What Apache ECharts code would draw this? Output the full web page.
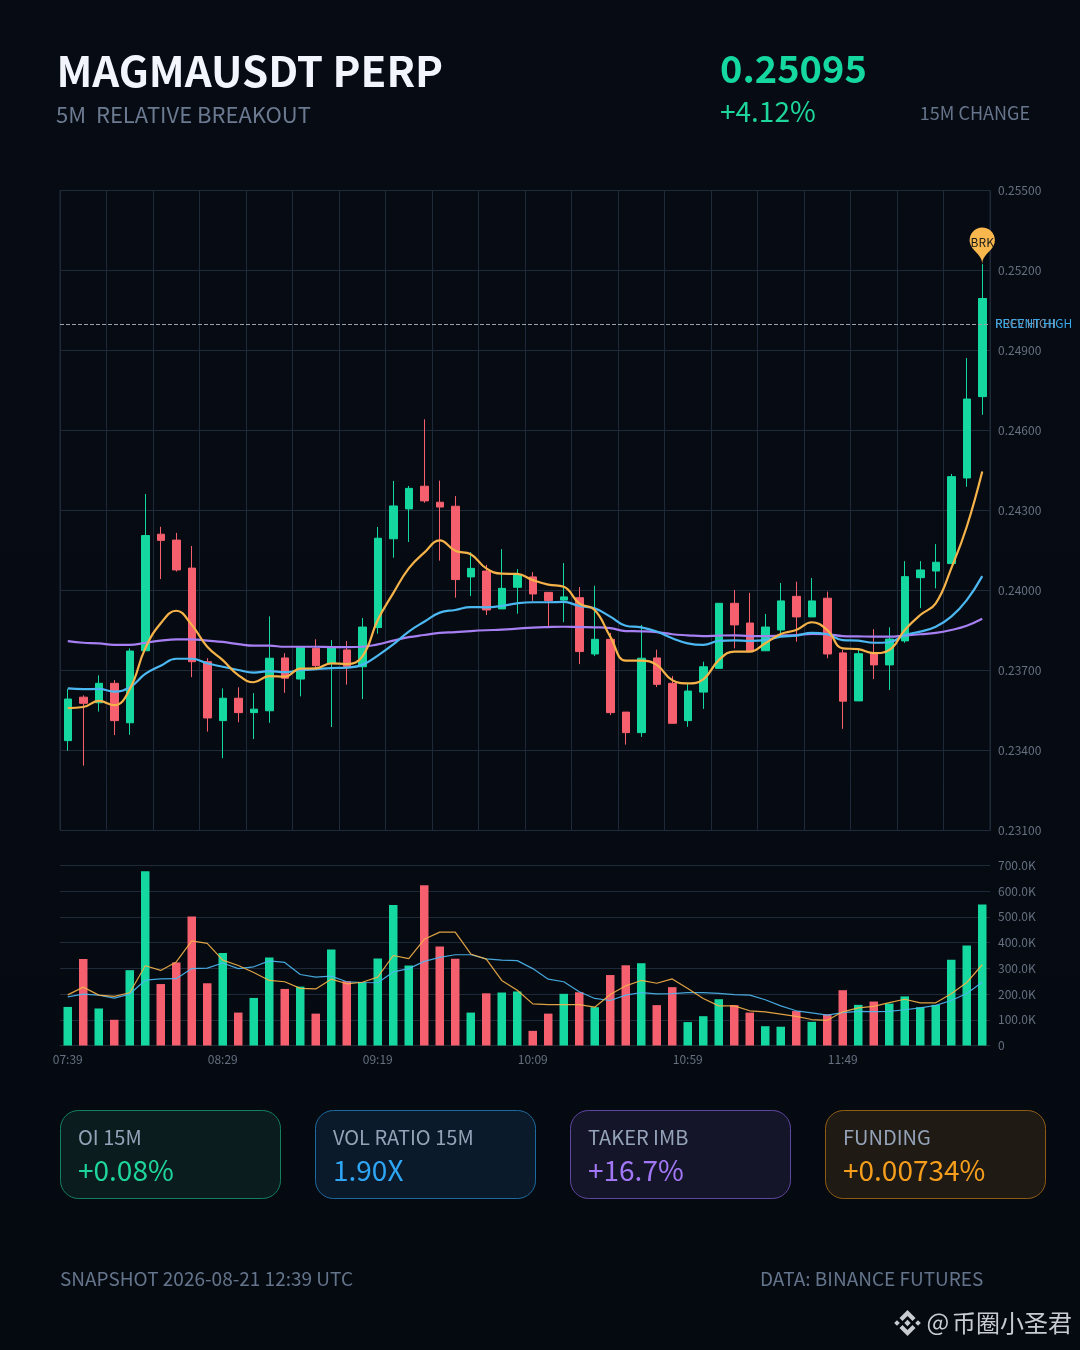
<!DOCTYPE html>
<html><head><meta charset="utf-8">
<style>html,body{margin:0;padding:0;background:#050a12}#c{width:1080px;height:1350px}</style>
<script src="https://cdn.jsdelivr.net/npm/echarts@6/dist/echarts.min.js"></script>
</head><body><div id="c"></div>
<script>
const times=['07:39','07:44','07:49','07:54','07:59','08:04','08:09','08:14','08:19','08:24','08:29','08:34','08:39','08:44','08:49','08:54','08:59','09:04','09:09','09:14','09:19','09:24','09:29','09:34','09:39','09:44','09:49','09:54','09:59','10:04','10:09','10:14','10:19','10:24','10:29','10:34','10:39','10:44','10:49','10:54','10:59','11:04','11:09','11:14','11:19','11:24','11:29','11:34','11:39','11:44','11:49','11:54','11:59','12:04','12:09','12:14','12:19','12:24','12:29','12:34'];
const opens=[.23437,.23600,.23579,.23652,.23504,.23774,.24211,.24189,.24084,.23733,.23512,.23596,.23542,.23549,.23747,.23668,.23783,.23727,.23777,.23714,.23861,.24194,.24306,.24391,.24331,.24316,.24051,.24073,.23931,.24012,.24051,.23993,.23964,.23973,.23762,.23817,.23544,.23467,.23747,.23652,.23512,.23619,.23708,.23952,.23878,.23774,.23852,.23978,.23901,.23971,.23766,.23586,.23762,.23721,.23811,.24048,.24073,.24101,.24422,.24727];
const closes=[.23593,.23577,.23652,.23512,.23773,.24206,.24188,.24077,.23733,.23522,.23596,.23542,.23555,.23746,.23671,.23787,.23718,.23786,.23714,.23863,.24196,.24317,.24383,.24336,.24313,.24041,.24083,.23927,.24008,.24058,.23987,.23962,.23976,.23771,.23817,.23542,.23467,.23746,.23648,.23502,.23623,.23714,.23952,.23871,.23771,.23863,.23961,.23901,.23961,.23762,.23585,.23763,.23721,.23818,.24052,.24077,.24106,.24427,.24718,.25095];
const lows=[.23399,.23343,.23546,.23458,.23459,.23774,.24043,.24071,.23675,.23471,.23371,.23506,.23443,.23504,.23616,.23603,.23708,.23488,.23647,.23593,.23838,.24123,.24182,.24329,.24112,.23973,.23979,.23908,.23931,.23913,.23961,.23866,.23881,.23724,.23754,.23533,.23422,.23451,.23638,.23502,.23489,.23556,.23708,.23783,.23771,.23774,.23836,.23808,.23901,.23746,.23481,.23586,.23668,.23627,.23804,.23934,.24008,.24101,.24389,.24659];
const highs=[.23631,.23607,.23682,.23664,.23783,.24362,.24239,.24216,.24167,.23746,.23633,.23637,.23615,.23903,.23765,.23792,.23817,.23814,.23811,.23897,.24238,.24411,.24392,.24642,.24412,.24354,.24144,.24096,.24155,.24080,.24069,.23993,.24103,.24013,.24018,.23841,.23544,.23871,.23778,.23679,.23652,.23733,.23952,.24002,.23991,.23912,.24028,.24033,.24047,.23996,.23777,.23783,.23855,.23862,.24110,.24110,.24174,.24437,.24872,.25224];
const priceMaFast=[.23559,.23563,.23586,.23570,.23630,.23783,.23877,.23924,.23871,.23789,.23739,.23683,.23656,.23679,.23677,.23707,.23708,.23727,.23724,.23752,.23889,.23990,.24083,.24142,.24188,.24149,.24136,.24083,.24063,.24062,.24039,.24022,.24014,.23952,.23927,.23827,.23737,.23737,.23721,.23664,.23652,.23667,.23739,.23771,.23771,.23802,.23837,.23852,.23881,.23852,.23783,.23780,.23765,.23777,.23852,.23908,.23952,.24083,.24239,.24446];
const priceMaMid=[.23633,.23630,.23631,.23621,.23637,.23687,.23718,.23744,.23744,.23727,.23714,.23702,.23692,.23698,.23694,.23701,.23705,.23709,.23711,.23721,.23756,.23798,.23846,.23883,.23917,.23927,.23938,.23937,.23942,.23952,.23956,.23956,.23957,.23942,.23933,.23902,.23868,.23862,.23846,.23821,.23802,.23796,.23811,.23813,.23811,.23814,.23827,.23831,.23841,.23836,.23814,.23812,.23804,.23806,.23833,.23846,.23864,.23902,.23964,.24054];
const priceMaSlow=[.23810,.23804,.23802,.23796,.23796,.23804,.23812,.23817,.23817,.23812,.23807,.23799,.23793,.23793,.23789,.23789,.23789,.23788,.23788,.23789,.23798,.23812,.23825,.23833,.23841,.23844,.23848,.23851,.23853,.23857,.23861,.23863,.23864,.23863,.23862,.23859,.23848,.23847,.23844,.23836,.23832,.23829,.23831,.23832,.23829,.23829,.23831,.23833,.23837,.23836,.23829,.23828,.23827,.23827,.23831,.23836,.23841,.23852,.23868,.23894];
const volumes=[150,336,144,100,293,678,239,323,502,242,360,128,185,342,220,229,124,373,250,246,338,546,311,623,385,337,128,203,206,210,57,124,201,207,149,274,312,320,157,227,91,114,180,157,128,75,73,134,92,121,215,158,171,163,191,149,158,333,389,548].map(v=>v*1000);
const volMaFast=[197,227,196,191,205,310,292,325,407,397,332,311,284,253,248,222,220,258,240,246,266,350,338,413,441,441,356,336,253,215,162,159,159,159,149,198,232,253,242,259,222,183,154,154,135,131,122,113,101,98,131,146,152,167,180,166,166,201,245,314].map(v=>v*1000);
const volMaSlow=[189,200,196,184,200,254,259,260,299,301,321,299,306,329,323,276,266,270,248,245,244,286,299,327,343,353,353,337,332,330,299,258,248,209,183,175,196,206,201,202,206,206,203,198,196,178,154,135,127,118,128,133,132,133,139,146,156,175,202,246].map(v=>v*1000);
const priceTicks={min:.231,max:.255,interval:.003};
const recentHigh=.25005;

const GREEN='#14d8a0',RED='#f55f6e',ORANGE='#f6b349',BLUE='#4cb8f2',PURPLE='#a67ff2';
const GRID='#1e2a39',AXIS='#667080',FONT='"Noto Sans CJK SC","Noto Sans",sans-serif';
const up=i=>closes[i]>=opens[i];

function txt(x,y,text,size,fill,weight,align){
  return {type:'text',x:x,y:y,silent:true,style:{text:text,fill:fill,font:(weight||'normal')+' '+size+'px '+FONT,textAlign:align||'left',textVerticalAlign:'middle'}};
}
function card(x,label,value,fillC,stroke,valC){
  return [
    {type:'rect',shape:{x:x+.5,y:1110.5,width:220,height:88,r:18},silent:true,style:{fill:fillC,stroke:stroke,lineWidth:1}},
    txt(x+18,1137,label,20,'#94a3b8'),
    txt(x+18,1170,value,28,valC)
  ];
}
function logoPart(points){return {type:'polygon',silent:true,shape:{points:points.map(p=>[907.5+p[0],1323+p[1]])},style:{fill:'#c8ccd1'}};}

const chart=echarts.init(document.getElementById('c'),null,{width:1080,height:1350});
chart.setOption({
  animation:false,
  backgroundColor:{type:'linear',x:0,y:0,x2:0,y2:1,colorStops:[{offset:0,color:'#070b13'},{offset:1,color:'#050a11'}]},
  textStyle:{fontFamily:FONT},
  grid:[
    {left:60,top:190.5,width:930,height:640,show:true,borderColor:GRID,borderWidth:1,backgroundColor:'transparent'},
    {left:60,top:865.5,width:930,height:180}
  ],
  xAxis:[
    {type:'category',gridIndex:0,data:times,boundaryGap:true,
      axisLine:{show:false},axisTick:{show:false},axisLabel:{show:false},
      splitLine:{show:true,interval:i=>i%3===0,lineStyle:{color:GRID,width:1}}},
    {type:'category',gridIndex:1,data:times,boundaryGap:true,
      axisLine:{show:true,lineStyle:{color:GRID}},axisTick:{show:false},
      axisLabel:{interval:i=>i%10===0,color:AXIS,fontSize:12,margin:8,fontFamily:FONT},
      splitLine:{show:false}}
  ],
  yAxis:[
    {type:'value',gridIndex:0,position:'right',scale:false,min:priceTicks.min,max:priceTicks.max,interval:priceTicks.interval,
      axisLine:{show:false},axisTick:{show:false},
      axisLabel:{color:AXIS,fontSize:12,margin:8,fontFamily:FONT,formatter:v=>v.toFixed(5)},
      splitLine:{show:true,lineStyle:{color:GRID,width:1}}},
    {type:'value',gridIndex:1,position:'right',min:0,max:700000,interval:100000,
      axisLine:{show:false},axisTick:{show:false},
      axisLabel:{color:AXIS,fontSize:12,margin:8,fontFamily:FONT,formatter:v=>v===0?'0':(v/1000).toFixed(1)+'K'},
      splitLine:{show:true,lineStyle:{color:GRID,width:1}}}
  ],
  series:[
    {type:'candlestick',xAxisIndex:0,yAxisIndex:0,barWidth:8,z:3,
      data:times.map((_,i)=>[opens[i],closes[i],lows[i],highs[i]]),
      itemStyle:{color:GREEN,color0:RED,borderColor:GREEN,borderColor0:RED,borderWidth:1},
      markLine:{silent:true,symbol:'none',animation:false,
        lineStyle:{color:'#98a2ae',type:'dashed',width:1},
        data:[
          {yAxis:recentHigh,label:{show:true,position:'end',formatter:'PREV HIGH',color:'#7f8998',fontSize:12,fontFamily:FONT}},
          {yAxis:recentHigh,label:{show:true,position:'end',formatter:'RECENT HIGH',color:'#38a8e8',fontSize:12,fontFamily:FONT}}
        ]},
      markPoint:{silent:true,animation:false,symbol:'pin',symbolSize:42,itemStyle:{color:'#f9b84e'},
        label:{show:true,formatter:'BRK',color:'#1a1a1a',fontSize:12,fontFamily:FONT},
        data:[{coord:[times[59],highs[59]]}]}
    },
    {type:'line',xAxisIndex:0,yAxisIndex:0,data:priceMaSlow,smooth:.45,symbol:'none',z:4,lineStyle:{color:PURPLE,width:2.2}},
    {type:'line',xAxisIndex:0,yAxisIndex:0,data:priceMaMid,smooth:.45,symbol:'none',z:5,lineStyle:{color:BLUE,width:2.2}},
    {type:'line',xAxisIndex:0,yAxisIndex:0,data:priceMaFast,smooth:.45,symbol:'none',z:6,lineStyle:{color:ORANGE,width:2.2}},
    {type:'bar',xAxisIndex:1,yAxisIndex:1,barWidth:8.5,z:3,
      data:volumes.map((v,i)=>({value:v,itemStyle:{color:up(i)?GREEN:RED}}))},
    {type:'line',xAxisIndex:1,yAxisIndex:1,data:volMaSlow,symbol:'none',z:4,lineStyle:{color:BLUE,width:1.2,opacity:.9}},
    {type:'line',xAxisIndex:1,yAxisIndex:1,data:volMaFast,symbol:'none',z:5,lineStyle:{color:ORANGE,width:1.2,opacity:.9}}
  ],
  graphic:{elements:[
    txt(56.5,71,'MAGMAUSDT PERP',42,'#f2f6fc','bold'),
    txt(56,114.5,'5M  RELATIVE BREAKOUT',22,'#6b7a90'),
    txt(720,69,'0.25095',38,GREEN,'bold'),
    txt(720,111,'+4.12%',28,'#1ed69b'),
    txt(1030,113,'15M CHANGE',18,'#66758c','normal','right'),
    ...card(60,'OI 15M','+0.08%','#0b1c1e','#14805f','#1ed69b'),
    ...card(315,'VOL RATIO 15M','1.90X','#0a1a2a','#1c6aa0','#2ea6f5'),
    ...card(570,'TAKER IMB','+16.7%','#15152a','#5f46a0','#a277f5'),
    ...card(825,'FUNDING','+0.00734%','#201a15','#8f5c14','#f59e1b'),
    txt(60,1279,'SNAPSHOT 2026-08-21 12:39 UTC',19,'#64748b'),
    txt(760,1279,'DATA: BINANCE FUTURES',19,'#64748b'),
    logoPart([[0,-13],[8,-5],[5,-2],[0,-7],[-5,-2],[-8,-5]]),
    logoPart([[0,13],[8,5],[5,2],[0,7],[-5,2],[-8,5]]),
    logoPart([[0,-3.2],[3.2,0],[0,3.2],[-3.2,0]]),
    logoPart([[-10.5,-2.8],[-7.7,0],[-10.5,2.8],[-13.3,0]]),
    logoPart([[10.5,-2.8],[13.3,0],[10.5,2.8],[7.7,0]]),
    txt(926.5,1322,'@',24,'#c8ccd1'),
    txt(952,1323,'币圈小圣君',24,'#c8ccd1')
  ]}
});
</script></body></html>
